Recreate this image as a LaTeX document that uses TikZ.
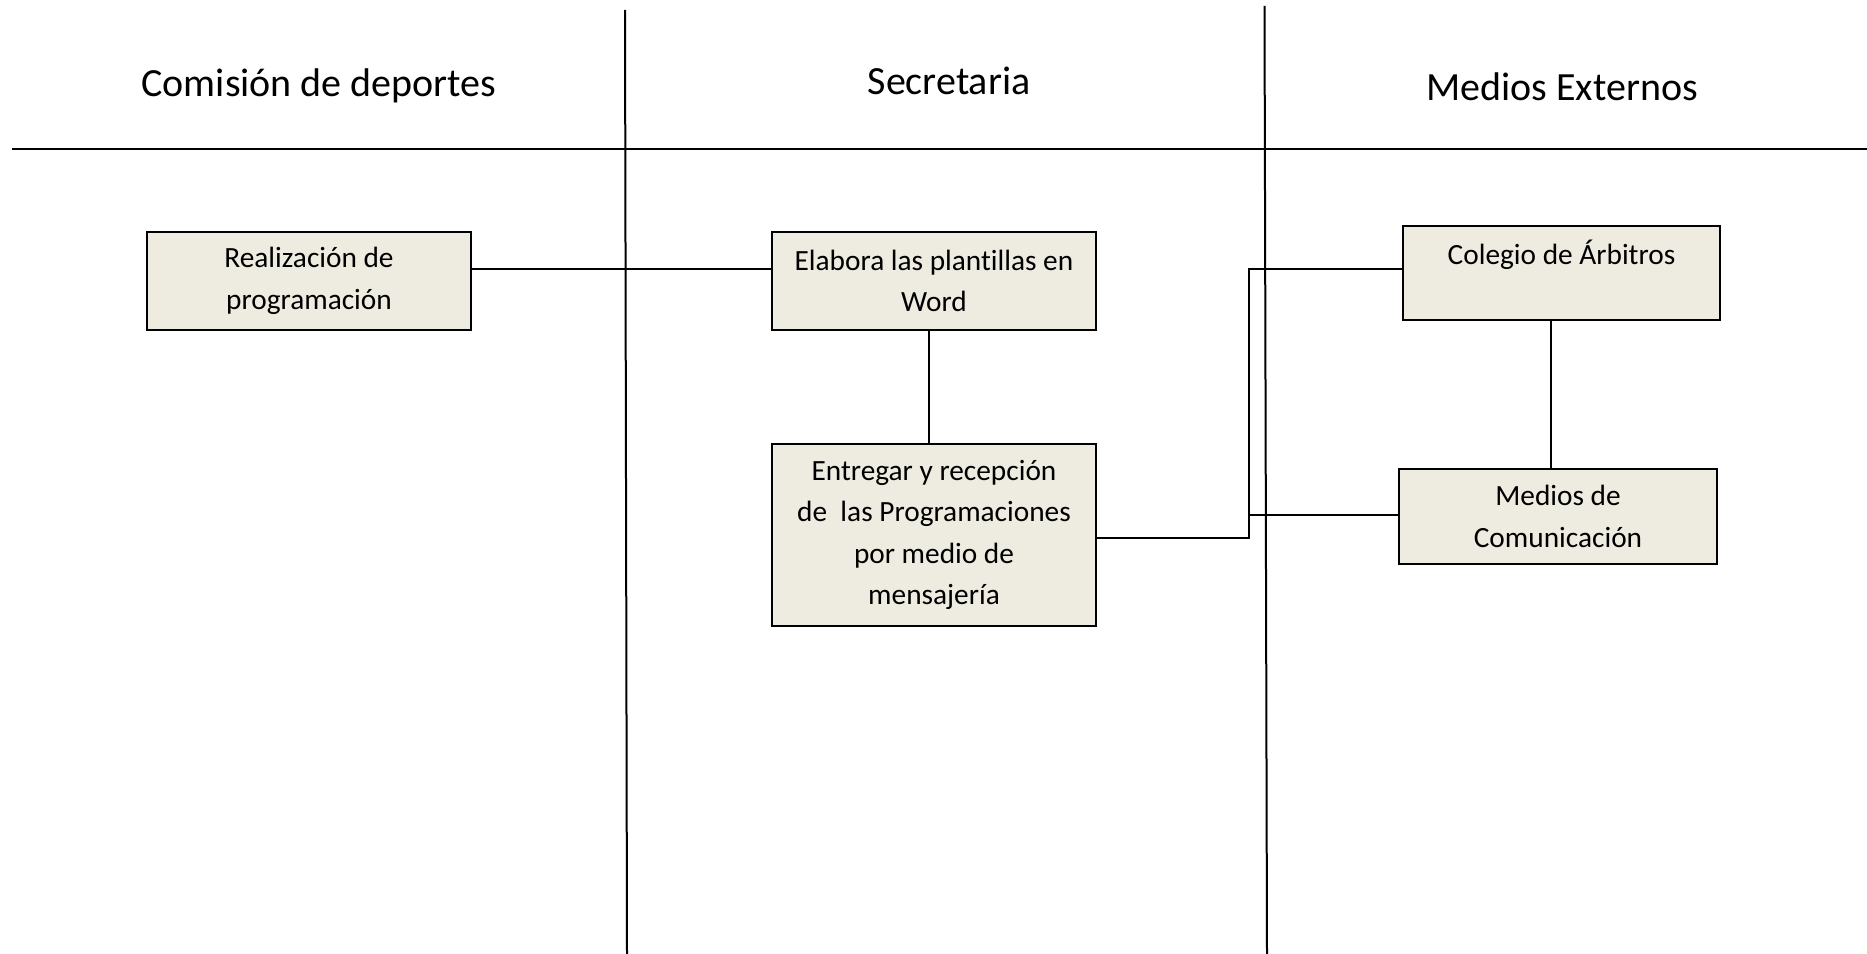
\documentclass[tikz,border=0pt]{standalone}
\usepackage{fontspec}
\setmainfont{Carlito}[Ligatures=NoCommon]
\usetikzlibrary{positioning,calc}

\definecolor{boxfill}{HTML}{EEECE1}
\tikzset{
    proc/.style={draw, line width=0.75pt, fill=boxfill, align=center, inner sep=0pt,
        font=\fontsize{11}{15.5}\selectfont},
    lane/.style={line width=0.75pt},
    link/.style={line width=0.75pt},
    lanetitle/.style={font=\fontsize{15}{18}\selectfont}
}

\begin{document}
\begin{tikzpicture}[x=0.375pt,y=-0.375pt]
    \useasboundingbox (0,0) rectangle (1867,954);

    % Lanes
    \draw[lane] (12,149) -- (1867,149);
    \draw[lane] (625,10) -- (627,954);
    \draw[lane] (1264.5,6) -- (1267,954);
    \node[lanetitle] (comision) at (319,86) {Comisión de deportes};
    \node[lanetitle] (secretaria) at (949,81) {Secretaria};
    \node[lanetitle] (medios) at (1562,87) {Medios Externos};

    % Steps
    \node[proc, minimum width=121.5pt, minimum height=36.75pt] (realizacion) at (309,281)
        {Realización de\\programación};
    \node[proc, minimum width=121.5pt, minimum height=36.75pt] (plantillas) at (934,281)
        {Elabora las plantillas en\\Word};
    \node[proc, minimum width=121.5pt, minimum height=68.25pt] (entrega) at (934,535)
        {Entregar y recepción\\de~ las Programaciones\\por medio de\\mensajería};
    \node[proc, minimum width=118.9pt, minimum height=35.25pt] (arbitros) at (1561.5,273)
        {Colegio de Árbitros\\~};
    \node[proc, minimum width=119.25pt, minimum height=35.6pt] (comunicacion) at (1558,516.5)
        {Medios de\\Comunicación};

    % Links
    \coordinate (split) at (1249,515);
    \draw[link] ([yshift=4.5pt]realizacion.east) -- ([yshift=4.5pt]plantillas.west);
    \draw[link] ([xshift=-1.9pt]plantillas.south) -- ([xshift=-1.9pt]entrega.north);
    \draw[link] ([yshift=-1.1pt]entrega.east) -| (split) -- (comunicacion.west |- split);
    \draw[link] (split) |- ([yshift=1.5pt]arbitros.west);
    \draw[link] ([xshift=-3.8pt]arbitros.south) -- ([xshift=-3.8pt]arbitros.south |- comunicacion.north);
\end{tikzpicture}
\end{document}
